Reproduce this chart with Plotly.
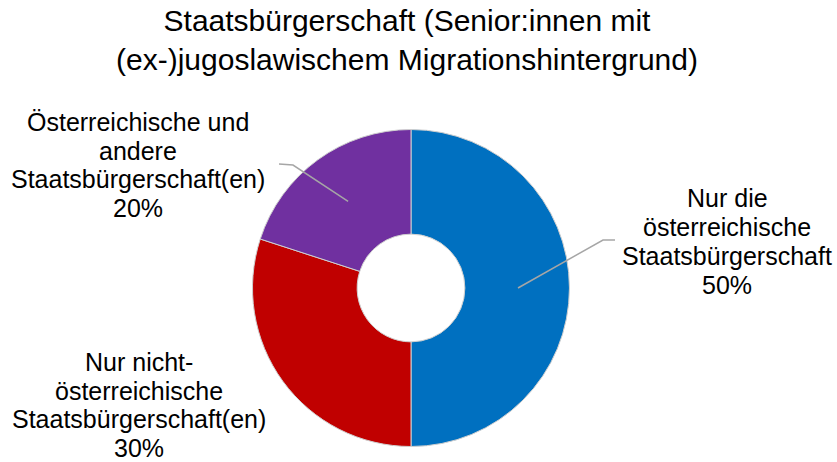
import math
import plotly.graph_objects as go

# Data
labels = [
    "Nur die<br>österreichische<br>Staatsbürgerschaft",
    "Nur nicht-<br>österreichische<br>Staatsbürgerschaft(en)",
    "Österreichische und<br>andere<br>Staatsbürgerschaft(en)",
]
values = [50, 30, 20]
colors = ["#0070C0", "#C00000", "#7030A0"]

title = "Staatsbürgerschaft (Senior:innen mit<br>(ex-)jugoslawischem Migrationshintergrund)"

W, H = 837, 462
CX, CY, R = 411, 288, 158.5  # donut centre / radius in pixels

# label placement: centre x and first line y (pixels), line step
label_pos = [(727, 198.5), (139, 362), (138, 122)]
LINE_STEP = 28.7
elbows = [[(615, 240), (603, 240)], None, [(279, 164), (293, 165)]]


def px(x, y):
    return x / W, 1 - y / H


x0, y1 = px(CX - R, CY - R)
x1, y0 = px(CX + R, CY + R)

fig = go.Figure(go.Pie(
    labels=[l.replace("<br>", " ") for l in labels],
    values=values,
    hole=0.34,
    sort=False,
    direction="clockwise",
    rotation=0,
    marker=dict(colors=colors, line=dict(color="#CFCFCF", width=1)),
    textinfo="none",
    hoverinfo="label+percent",
    domain=dict(x=[x0, x1], y=[y0, y1]),
    showlegend=False,
))

total = sum(values)
cum = 0
for i, v in enumerate(values):
    pct = round(100 * v / total)
    lines = labels[i].split("<br>") + [f"{pct}%"]
    for j, line in enumerate(lines):
        lx, ly = px(label_pos[i][0], label_pos[i][1] + j * LINE_STEP)
        fig.add_annotation(
            x=lx, y=ly, xref="paper", yref="paper",
            text=line,
            showarrow=False, xanchor="center", yanchor="middle",
            font=dict(size=25, color="#000000"),
        )
    mid = math.radians((cum + v / 2) / total * 360)
    cum += v
    if elbows[i]:
        ax = CX + 107 * math.sin(mid)
        ay = CY - 107 * math.cos(mid)
        pts = elbows[i] + [(ax, ay)]
        path = "M " + " L ".join(f"{px(x, y)[0]},{px(x, y)[1]}" for x, y in pts)
        fig.add_shape(type="path", path=path, xref="paper", yref="paper",
                      line=dict(color="#A6A6A6", width=1.5))

fig.update_layout(
    width=W, height=H,
    margin=dict(l=0, r=0, t=0, b=0),
    paper_bgcolor="white",
    font=dict(family="Liberation Sans, Arial, sans-serif", color="#000000"),
    title=dict(text=title, x=407 / W, xanchor="center", y=1 - 31 / H,
               yanchor="middle", yref="container",
               font=dict(size=30, color="#000000")),
)

fig.write_html("out.html", config={"displayModeBar": False},
               post_script="document.body.style.margin = '0';")
